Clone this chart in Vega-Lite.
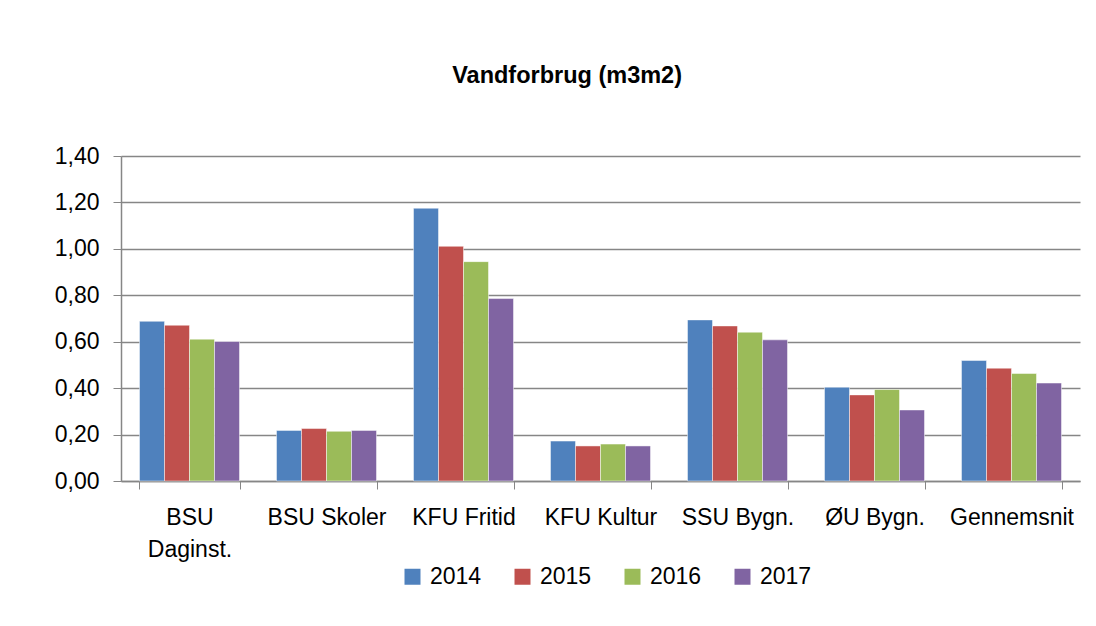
{
  "$schema": "https://vega.github.io/schema/vega-lite/v6.json",
  "autosize": "none",
  "width": 959,
  "height": 325,
  "padding": {"left": 121, "top": 156, "right": 16, "bottom": 145},
  "background": "white",
  "title": {
    "text": "Vandforbrug (m3m2)",
    "anchor": "middle",
    "frame": "bounds",
    "offset": 58,
    "font": "Liberation Sans",
    "fontSize": 23.5,
    "fontWeight": "bold",
    "color": "black"
  },
  "data": {
    "values": [
      {"kategori": "BSU Daginst.", "aar": "2014", "vaerdi": 0.688},
      {"kategori": "BSU Daginst.", "aar": "2015", "vaerdi": 0.671},
      {"kategori": "BSU Daginst.", "aar": "2016", "vaerdi": 0.611},
      {"kategori": "BSU Daginst.", "aar": "2017", "vaerdi": 0.601},
      {"kategori": "BSU Skoler", "aar": "2014", "vaerdi": 0.218},
      {"kategori": "BSU Skoler", "aar": "2015", "vaerdi": 0.226},
      {"kategori": "BSU Skoler", "aar": "2016", "vaerdi": 0.214},
      {"kategori": "BSU Skoler", "aar": "2017", "vaerdi": 0.218},
      {"kategori": "KFU Fritid", "aar": "2014", "vaerdi": 1.175},
      {"kategori": "KFU Fritid", "aar": "2015", "vaerdi": 1.011},
      {"kategori": "KFU Fritid", "aar": "2016", "vaerdi": 0.945},
      {"kategori": "KFU Fritid", "aar": "2017", "vaerdi": 0.786},
      {"kategori": "KFU Kultur", "aar": "2014", "vaerdi": 0.172},
      {"kategori": "KFU Kultur", "aar": "2015", "vaerdi": 0.151},
      {"kategori": "KFU Kultur", "aar": "2016", "vaerdi": 0.159},
      {"kategori": "KFU Kultur", "aar": "2017", "vaerdi": 0.151},
      {"kategori": "SSU Bygn.", "aar": "2014", "vaerdi": 0.694},
      {"kategori": "SSU Bygn.", "aar": "2015", "vaerdi": 0.668},
      {"kategori": "SSU Bygn.", "aar": "2016", "vaerdi": 0.641},
      {"kategori": "SSU Bygn.", "aar": "2017", "vaerdi": 0.608},
      {"kategori": "ØU Bygn.", "aar": "2014", "vaerdi": 0.404},
      {"kategori": "ØU Bygn.", "aar": "2015", "vaerdi": 0.371},
      {"kategori": "ØU Bygn.", "aar": "2016", "vaerdi": 0.394},
      {"kategori": "ØU Bygn.", "aar": "2017", "vaerdi": 0.306},
      {"kategori": "Gennemsnit", "aar": "2014", "vaerdi": 0.519},
      {"kategori": "Gennemsnit", "aar": "2015", "vaerdi": 0.486},
      {"kategori": "Gennemsnit", "aar": "2016", "vaerdi": 0.463},
      {"kategori": "Gennemsnit", "aar": "2017", "vaerdi": 0.422}
    ]
  },
  "mark": {"type": "bar", "stroke": "#ffffff", "strokeWidth": 0.8, "strokeOpacity": 0.6},
  "encoding": {
    "x": {
      "field": "kategori",
      "type": "nominal",
      "sort": ["BSU Daginst.", "BSU Skoler", "KFU Fritid", "KFU Kultur", "SSU Bygn.", "ØU Bygn.", "Gennemsnit"],
      "scale": {"paddingInner": 0.27, "paddingOuter": 0.135},
      "axis": {
        "title": null,
        "labelAngle": 0,
        "tickBand": "extent",
        "labelExpr": "datum.value == 'BSU Daginst.' ? ['BSU', 'Daginst.'] : datum.label",
        "labelLineHeight": 32,
        "labelFont": "Liberation Sans",
        "labelFontSize": 23,
        "labelColor": "black",
        "labelPadding": 17,
        "labelBaseline": "top",
        "tickSize": 8,
        "tickColor": "#868686",
        "domainColor": "#868686",
        "domainWidth": 1.5,
        "grid": false
      }
    },
    "xOffset": {"field": "aar", "type": "nominal", "sort": ["2014", "2015", "2016", "2017"]},
    "y": {
      "field": "vaerdi",
      "type": "quantitative",
      "scale": {"domain": [0, 1.4], "nice": false},
      "axis": {
        "title": null,
        "values": [0, 0.2, 0.4, 0.6, 0.8, 1.0, 1.2, 1.4],
        "labelExpr": "replace(format(datum.value, '.2f'), '.', ',')",
        "labelFont": "Liberation Sans",
        "labelFontSize": 23,
        "labelColor": "black",
        "labelPadding": 14,
        "tickSize": 8,
        "tickColor": "#868686",
        "domainColor": "#868686",
        "domainWidth": 1.5,
        "grid": true,
        "gridColor": "#868686",
        "gridWidth": 1.5
      }
    },
    "color": {
      "field": "aar",
      "type": "nominal",
      "sort": ["2014", "2015", "2016", "2017"],
      "scale": {"domain": ["2014", "2015", "2016", "2017"], "range": ["#4F81BD", "#C0504D", "#9BBB59", "#8064A2"]},
      "legend": {
        "title": null,
        "orient": "none",
        "legendX": 280,
        "legendY": 409,
        "direction": "horizontal",
        "symbolType": "square",
        "symbolSize": 256,
        "symbolStrokeWidth": 0,
        "labelFont": "Liberation Sans",
        "labelFontSize": 23,
        "labelColor": "black",
        "labelOffset": 6,
        "columnPadding": 29
      }
    }
  },
  "config": {"view": {"stroke": null}}
}
